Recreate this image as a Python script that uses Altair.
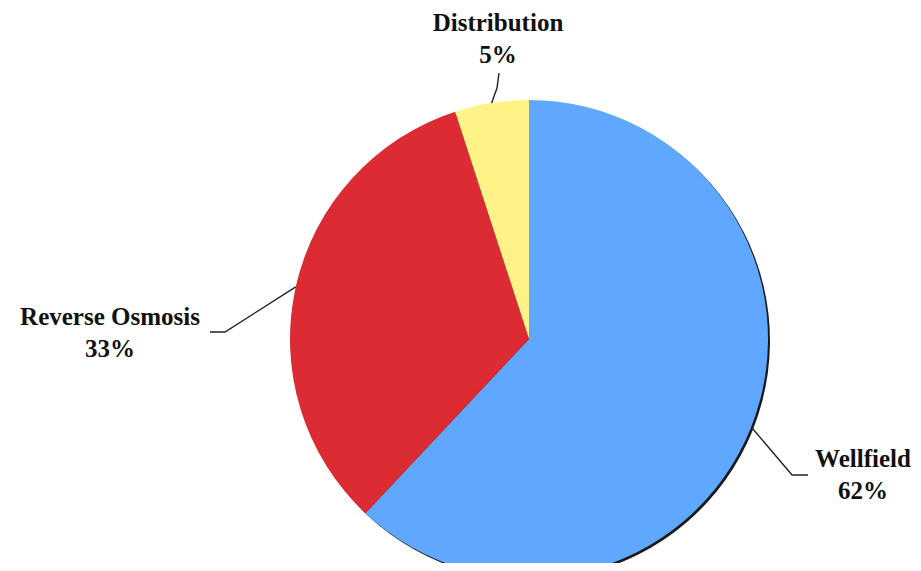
import altair as alt
import numpy as np
import pandas as pd

# ---- data ----
categories = ["Wellfield", "Reverse Osmosis", "Distribution"]
shares = [62, 33, 5]
slice_colors = ["#60A8FF", "#DC2B32", "#FFF286"]

# ---- layout (pixels, chart coordinates) ----
W, H = 905, 555
CX, CY = 521, 331
R = 239
# label anchor offsets from pie centre: (dx, baseline dy of name line)
label_offsets = {
    "Wellfield": (334, 128),
    "Reverse Osmosis": (-419, -14),
    "Distribution": (-31, -308),
}
# leader-line elbow and end offsets from pie centre
leader_elbow = {
    "Wellfield": [(263, 136), (279, 136)],
    "Reverse Osmosis": [(-304, -7), (-319, -7)],
    "Distribution": [(-32, -251), (-30, -266)],
}
LINE_GAP = 32
FONT = "Liberation Serif"
FS = 25

df = pd.DataFrame({"category": categories, "share": shares,
                   "idx": list(range(len(categories)))})
df["pct"] = [f"{s}%" for s in shares]

# slice mid-angles from the data (clockwise from 12 o'clock)
total = float(sum(shares))
cum = np.cumsum(shares)
mids = (cum - np.array(shares) / 2.0) / total * 2 * np.pi

lines = []
labels = []
for cat, a in zip(categories, mids):
    pts = [(R * np.sin(a), -R * np.cos(a))] + leader_elbow[cat]
    for k, (dx, dy) in enumerate(pts):
        lines.append({"category": cat, "seq": k, "x": CX + dx, "y": CY + dy})
    lx, ly = label_offsets[cat]
    pct = df.loc[df.category == cat, "pct"].iloc[0]
    labels.append({"category": cat, "text": cat, "x": CX + lx, "y": CY + ly})
    labels.append({"category": cat, "text": pct, "x": CX + lx, "y": CY + ly + LINE_GAP})
lines_df = pd.DataFrame(lines)
labels_df = pd.DataFrame(labels)

shadow = alt.Chart(df).mark_arc(radius=R, color="#1a1a1a").encode(
    theta=alt.Theta("share:Q", stack=True),
    order=alt.Order("idx:Q"),
    x=alt.value(CX + 2),
    y=alt.value(CY + 2),
)

pie = alt.Chart(df).mark_arc(radius=R).encode(
    theta=alt.Theta("share:Q", stack=True),
    color=alt.Color("category:N", scale=alt.Scale(domain=categories, range=slice_colors), legend=None),
    order=alt.Order("idx:Q"),
    x=alt.value(CX),
    y=alt.value(CY),
)

leaders = alt.Chart(lines_df).mark_line(color="#222222", strokeWidth=1.4).encode(
    x=alt.X("x:Q", scale=None, axis=None),
    y=alt.Y("y:Q", scale=None, axis=None),
    detail="category:N",
    order="seq:Q",
)

texts = alt.Chart(labels_df).mark_text(
    font=FONT, fontSize=FS, fontWeight="bold", color="#111111",
    align="center", baseline="alphabetic",
).encode(
    x=alt.X("x:Q", scale=None, axis=None),
    y=alt.Y("y:Q", scale=None, axis=None),
    text="text:N",
)

chart = alt.layer(shadow, pie, leaders, texts).properties(
    width=W, height=H, padding=0,
    autosize=alt.AutoSizeParams(type="none"),
).configure_view(stroke=None, strokeWidth=0)

chart.save("out.html", embed_options={"renderer": "svg", "actions": False})
